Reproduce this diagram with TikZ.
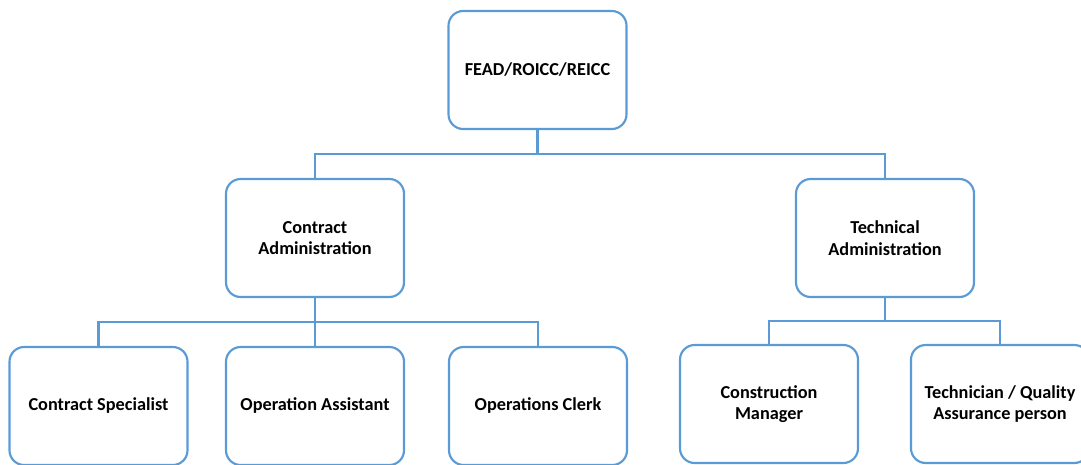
\documentclass[tikz,border=0pt]{standalone}
\usepackage{fontspec}
\setmainfont{Carlito}
\definecolor{orgblue}{HTML}{5B9BD5}
\begin{document}
\begin{tikzpicture}[x=0.75pt,y=-0.75pt,
  unitbox/.style={draw=orgblue,line width=1.6pt,rounded corners=11pt,fill=white,
    minimum width=133.5pt,minimum height=88.5pt,align=center,inner sep=2pt,
    font=\fontsize{13.7}{16}\selectfont\bfseries,text=black},
  link/.style={draw=orgblue,line width=1.6pt}]
\path[use as bounding box] (0,0) rectangle (1081,464);
\clip (0,0) rectangle (1081,464);

% head office
\node[unitbox] (top) at (537.5,70) {FEAD/ROICC/REICC};

% divisions
\node[unitbox] (ca) at (315,238) {Contract\\Administration};
\node[unitbox] (ta) at (885,238) {Technical\\Administration};

% staff
\node[unitbox] (cs) at (98.5,406) {Contract Specialist};
\node[unitbox] (oa) at (315,406) {Operation Assistant};
\node[unitbox] (oc) at (538,406) {Operations Clerk};
\node[unitbox] (cm) at (769,404) {Construction\\Manager};
\node[unitbox] (tq) at (1000,404) {Technician / Quality\\Assurance person};

% bus levels
\coordinate (b0) at (537.5,154);
\coordinate (b1) at (315,322);
\coordinate (b2) at (885,321);

% connectors
\draw[link] (top.south) -- (b0);
\draw[link] (b0) -| (ca.north);
\draw[link] (b0) -| (ta.north);

\draw[link] (ca.south) -- (b1);
\draw[link] (b1) -| (cs.north);
\draw[link] (b1) -- (oa.north);
\draw[link] (b1) -| (oc.north);

\draw[link] (ta.south) -- (b2);
\draw[link] (b2) -| (cm.north);
\draw[link] (b2) -| (tq.north);
\end{tikzpicture}
\end{document}
